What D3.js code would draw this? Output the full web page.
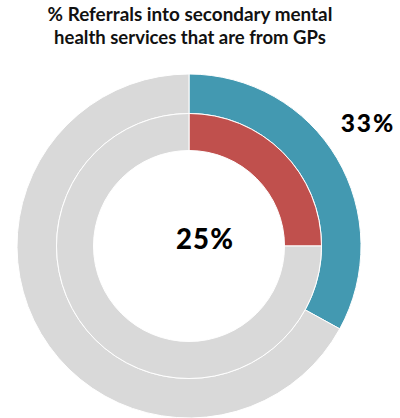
<!DOCTYPE html>
<html><head><meta charset="utf-8">
<script src="https://cdn.jsdelivr.net/npm/d3@7"></script>
<style>body{margin:0;background:#fff}svg{display:block}</style>
</head><body>
<script>
const titleLines = ["% Referrals into secondary mental", "health services that are from GPs"];
const outerValues = [33, 67];
const innerValues = [25, 75];
const outerLabel = "33%";
const innerLabel = "25%";
const outerColors = ["#4399b1", "#d9d9d9"];
const innerColors = ["#c0504d", "#d9d9d9"];

const W = 400, H = 418;
const svg = d3.select("body").append("svg").attr("width", W).attr("height", H);
const cx = 189, cy = 246;

const pie = d3.pie().sort(null).value(d => d);
const outerArc = d3.arc().innerRadius(132.5).outerRadius(172);
const innerArc = d3.arc().innerRadius(95.5).outerRadius(132.5);

const g = svg.append("g").attr("transform", `translate(${cx},${cy})`);
g.selectAll("path.o").data(pie(outerValues)).join("path")
  .attr("class", "o").attr("d", outerArc)
  .attr("fill", (d, i) => outerColors[i]).attr("stroke", "#fff").attr("stroke-width", 1);
g.selectAll("path.i").data(pie(innerValues)).join("path")
  .attr("class", "i").attr("d", innerArc)
  .attr("fill", (d, i) => innerColors[i]).attr("stroke", "#fff").attr("stroke-width", 1);

const font = "Lato, 'Open Sans', sans-serif";
const titleWidths = [285, 272];
const titleY = [21, 44];
titleLines.forEach((t, i) => {
  const tx = svg.append("text").attr("x", 190).attr("y", titleY[i])
    .attr("text-anchor", "middle").attr("font-family", font).attr("font-weight", "bold")
    .attr("font-size", 16).attr("fill", "#111").text(t);
  const w = tx.node().getComputedTextLength();
  tx.attr("font-size", 16 * titleWidths[i] / w);
});

svg.append("text").attr("x", 205).attr("y", 249).attr("text-anchor", "middle")
  .attr("font-family", font).attr("font-weight", 900).attr("font-size", 27.5)
  .attr("letter-spacing", 1.2).attr("fill", "#000").text(innerLabel);
svg.append("text").attr("x", 368).attr("y", 132).attr("text-anchor", "middle")
  .attr("font-family", font).attr("font-weight", 900).attr("font-size", 24.5)
  .attr("letter-spacing", 2).attr("fill", "#000").text(outerLabel);
</script>
</body></html>
